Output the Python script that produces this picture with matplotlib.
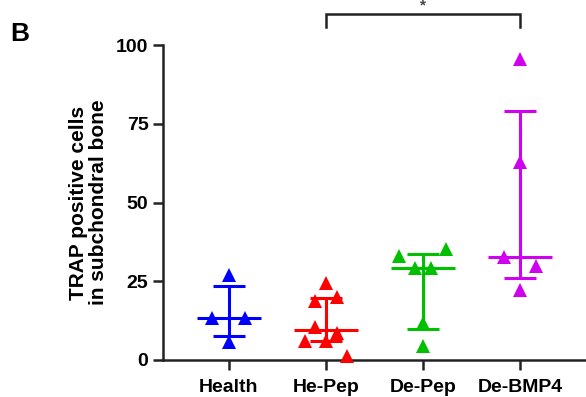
import numpy as np
import matplotlib
matplotlib.use("Agg")
import matplotlib.pyplot as plt

plt.rcParams['font.family'] = ['Liberation Sans', 'DejaVu Sans']
plt.rcParams['font.weight'] = 'bold'

categories = ["Health", "He-Pep", "De-Pep", "De-BMP4"]
health = [27.0, 13.3, 13.3, 5.8]
he_pep = [24.3, 18.8, 19.9, 10.6, 8.7, 6.1, 5.9, 1.3]
de_pep = [33.0, 35.3, 29.1, 29.1, 11.6, 4.4]
de_bmp4 = [95.4, 63.0, 32.6, 29.9, 22.2]
series = [health, he_pep, de_pep, de_bmp4]
# horizontal scatter offsets of each point (as placed in the picture)
offsets = [
    [0.0, -0.17, 0.17, 0.0],
    [0.0, -0.11, 0.11, -0.11, 0.11, -0.22, 0.0, 0.22],
    [-0.25, 0.24, -0.085, 0.085, 0.0, 0.0],
    [0.0, 0.0, -0.165, 0.165, 0.0],
]
colors = ["#0000FF", "#FF0000", "#00C000", "#D000F0"]
yticks = [0, 25, 50, 75, 100]
ylabel = "TRAP positive cells\nin subchondral bone"
sig_text = "*"

W, H = 586, 397
fig = plt.figure(figsize=(W / 100, H / 100), dpi=100)
ax = fig.add_axes([163 / W, 37 / H, (585 - 163) / W, (360 - 45) / H])

lw = 2.2
for i, (vals, offs, c) in enumerate(zip(series, offsets, colors)):
    v = np.asarray(vals)
    med = np.median(v)
    q1, q3 = np.percentile(v, [25, 75], method='weibull')
    ax.plot([i, i], [q1, q3], color=c, lw=lw, solid_capstyle='butt', zorder=2)
    ax.plot([i - 0.165, i + 0.165], [q1, q1], color=c, lw=lw, solid_capstyle='butt', zorder=2)
    ax.plot([i - 0.165, i + 0.165], [q3, q3], color=c, lw=lw, solid_capstyle='butt', zorder=2)
    ax.plot([i - 0.33, i + 0.33], [med, med], color=c, lw=lw, solid_capstyle='butt', zorder=2)
    ax.plot(i + np.asarray(offs), v, linestyle='none', marker='^', ms=9.5,
            color=c, markeredgewidth=0, clip_on=False, zorder=3)

ax.set_xlim(-0.68, 3.67)
ax.set_ylim(0, 100)
ax.set_xticks(range(len(categories)))
ax.set_xticklabels(categories, fontsize=14, fontweight='bold')
ax.set_yticks(yticks)
ax.set_yticklabels([str(t) for t in yticks], fontsize=14, fontweight='bold')
ax.tick_params(axis='both', length=7.5, width=1.8, color='#222222', pad=3)
ax.tick_params(axis='x', pad=6)
for s in ['top', 'right']:
    ax.spines[s].set_visible(False)
for s in ['left', 'bottom']:
    ax.spines[s].set_linewidth(1.8)
    ax.spines[s].set_color('#222222')
ax.set_ylabel(ylabel, fontsize=15, fontweight='bold', labelpad=6, linespacing=1.05)

# significance bracket between He-Pep and De-BMP4
ax.plot([1, 1, 3, 3], [105.7, 109.8, 109.8, 105.7], color='#222222', lw=1.8,
        clip_on=False, solid_joinstyle='miter')
ax.text(2, 110.3, sig_text, ha='center', va='bottom', fontsize=11,
        fontweight='bold', color='#444444', clip_on=False)

fig.text(10 / W, 1 - 34 / H, "B", fontsize=19, fontweight='bold', va='center', ha='left')

fig.savefig("out.png", dpi=100)
